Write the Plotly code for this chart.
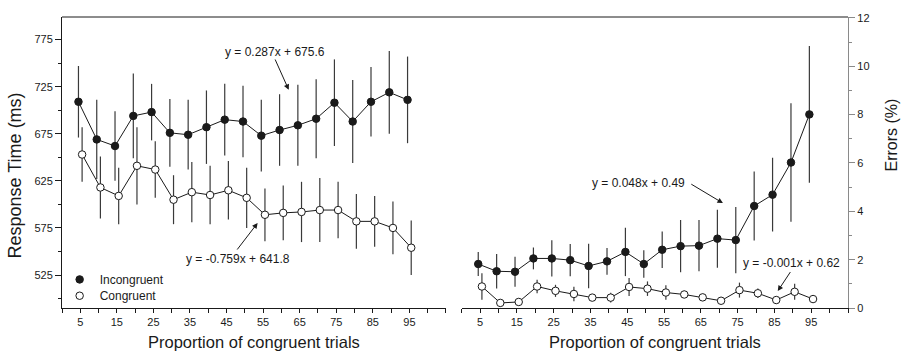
import plotly.graph_objects as go

# ---------------- data ----------------
proportions = [5, 10, 15, 20, 25, 30, 35, 40, 45, 50, 55, 60, 65, 70, 75, 80, 85, 90, 95]

rt_incongruent = [709, 669, 662, 694, 698, 676, 674, 682, 690, 688, 673, 679, 684, 691, 708, 688, 709, 719, 711]
rt_incongruent_se = [38, 42, 37, 45, 30, 36, 37, 39, 38, 38, 38, 38, 43, 42, 46, 44, 37, 44, 46]
rt_congruent = [653, 618, 609, 641, 637, 605, 613, 610, 615, 607, 589, 591, 592, 594, 594, 582, 582, 575, 554]
rt_congruent_se = [29, 33, 30, 41, 30, 26, 32, 31, 31, 32, 28, 29, 32, 34, 30, 29, 27, 28, 29]

err_incongruent = [1.82, 1.52, 1.50, 2.05, 2.05, 1.98, 1.74, 1.93, 2.32, 1.82, 2.41, 2.56, 2.58, 2.87, 2.81, 4.22, 4.69, 6.02, 8.01]
err_incongruent_se = [0.50, 0.71, 0.62, 0.45, 0.75, 0.67, 0.92, 0.55, 1.00, 0.57, 0.75, 1.08, 1.06, 1.20, 1.37, 1.43, 1.53, 2.45, 2.83]
err_congruent = [0.89, 0.21, 0.25, 0.89, 0.71, 0.58, 0.43, 0.43, 0.87, 0.80, 0.64, 0.56, 0.44, 0.30, 0.74, 0.61, 0.33, 0.67, 0.37]
err_congruent_se = [0.55, 0.10, 0.10, 0.28, 0.25, 0.30, 0.10, 0.20, 0.37, 0.30, 0.30, 0.15, 0.15, 0.10, 0.31, 0.20, 0.10, 0.33, 0.10]

x_tick_positions = list(range(0, 106, 5))
x_tick_labels = [5, 15, 25, 35, 45, 55, 65, 75, 85, 95]

eq_rt_incong = "y = 0.287x + 675.6"
eq_rt_cong = "y = -0.759x + 641.8"
eq_err_incong = "y = 0.048x + 0.49"
eq_err_cong = "y = -0.001x + 0.62"

# ---------------- styling ----------------
FONT = "Liberation Sans, Arial, Helvetica, sans-serif"
DARK = "#1a1a1a"
BAR = "#3a3a3a"
OFFSET = 0.5

x_inc = [p - OFFSET for p in proportions]
x_con = [p + OFFSET for p in proportions]

fig = go.Figure()

def add_series(x, y, se, filled, name, xa, ya, legend_id):
    # connecting line (no legend entry)
    fig.add_trace(go.Scatter(
        x=x, y=y, xaxis=xa, yaxis=ya, mode="lines", showlegend=False,
        hoverinfo="skip", line=dict(color=DARK, width=1),
    ))
    # markers + error bars
    fig.add_trace(go.Scatter(
        x=x, y=y, xaxis=xa, yaxis=ya, mode="markers", name=name,
        showlegend=legend_id is not None, legend=legend_id or "legend",
        marker=dict(size=7.5, color=DARK if filled else "white",
                    line=dict(color=DARK, width=1), symbol="circle"),
        error_y=dict(type="data", array=se, visible=True, thickness=1.2,
                     width=0, color=BAR),
    ))

add_series(x_inc, rt_incongruent, rt_incongruent_se, True, "Incongruent", "x", "y", "legend")
add_series(x_con, rt_congruent, rt_congruent_se, False, "Congruent", "x", "y", "legend2")
add_series(x_inc, err_incongruent, err_incongruent_se, True, "Incongruent", "x2", "y2", None)
add_series(x_con, err_congruent, err_congruent_se, False, "Congruent", "x2", "y2", None)

tick_text = [str(v) if v in x_tick_labels else "" for v in x_tick_positions]

xcommon = dict(range=[0, 105], showline=True, linecolor=DARK, linewidth=1,
               ticks="outside", ticklen=4, tickwidth=1, tickcolor=DARK,
               tickvals=x_tick_positions, ticktext=tick_text,
               showgrid=False, zeroline=False,
               tickfont=dict(size=11, color=DARK, family=FONT))

legend_common = dict(xanchor="left", yanchor="top", bgcolor="rgba(0,0,0,0)",
                     font=dict(size=12, family=FONT, color=DARK), itemwidth=30)

fig.update_layout(
    width=904, height=351,
    margin=dict(l=62, r=56, t=14, b=43),
    paper_bgcolor="white", plot_bgcolor="white",
    font=dict(family=FONT, color=DARK),
    xaxis=dict(domain=[0, 0.4885], anchor="y", **xcommon),
    xaxis2=dict(domain=[0.5085, 1], anchor="y2", **xcommon),
    yaxis=dict(range=[490, 799], anchor="x", showline=True, linecolor=DARK, linewidth=1,
               ticks="outside", ticklen=6, tickwidth=1, tickcolor=DARK,
               tick0=525, dtick=50, showgrid=False, zeroline=False,
               tickfont=dict(size=11, color=DARK, family=FONT),
               minor=dict(dtick=25, ticks="outside", ticklen=3, tickcolor=DARK, showgrid=False)),
    yaxis2=dict(range=[0, 12.04], anchor="x2", side="right", showline=True,
                linecolor="#8a8a8a", linewidth=1.2,
                ticks="outside", ticklen=6, tickwidth=1, tickcolor="#8a8a8a",
                tick0=0, dtick=2, showgrid=False, zeroline=False,
                tickfont=dict(size=11, color=DARK, family=FONT),
                minor=dict(dtick=1, ticks="outside", ticklen=3, tickcolor="#8a8a8a", showgrid=False)),
    showlegend=True,
    legend=dict(x=-0.003, y=0.148, **legend_common),
    legend2=dict(x=-0.003, y=0.092, **legend_common),
)

# top frame line spanning both panels
fig.add_shape(type="line", xref="paper", yref="paper", x0=0, x1=1, y0=1, y1=1,
              line=dict(color=DARK, width=1))

# axis titles
fig.add_annotation(text="Proportion of congruent trials", xref="x domain", yref="paper",
                   x=0.5, y=-0.1158, yanchor="middle", showarrow=False,
                   font=dict(size=16.5, family=FONT, color=DARK))
fig.add_annotation(text="Proportion of congruent trials", xref="x2 domain", yref="paper",
                   x=0.5, y=-0.1158, yanchor="middle", showarrow=False,
                   font=dict(size=16.5, family=FONT, color=DARK))
fig.add_annotation(text="Response Time (ms)", xref="paper", yref="paper",
                   x=-0.06, y=0.455, textangle=-90, showarrow=False,
                   xanchor="center", yanchor="middle",
                   font=dict(size=18, family=FONT, color=DARK))
fig.add_annotation(text="Errors (%)", xref="paper", yref="paper",
                   x=1.0555, y=0.595, textangle=-90, showarrow=False,
                   xanchor="center", yanchor="middle",
                   font=dict(size=16, family=FONT, color=DARK))

# regression equation labels
def eq_label(text, xa, ya, x, y):
    fig.add_annotation(text=text, xref=xa, yref=ya, x=x, y=y, showarrow=False,
                       font=dict(size=12, family=FONT, color=DARK))

def arrow(xa, ya, x0, y0, x1, y1):
    fig.add_annotation(text="", xref=xa, yref=ya, axref=xa, ayref=ya,
                       x=x1, y=y1, ax=x0, ay=y0, showarrow=True,
                       arrowhead=2, arrowsize=1.1, arrowwidth=1, arrowcolor=DARK)

eq_label(eq_rt_incong, "x", "y", 58.2, 761.7)
arrow("x", "y", 58.1, 755.5, 62.0, 721.7)
eq_label(eq_rt_cong, "x", "y", 48.2, 542.4)
arrow("x", "y", 47.6, 550.5, 53.5, 580.3)
eq_label(eq_err_incong, "x2", "y2", 48.1, 5.19)
arrow("x2", "y2", 62.0, 5.16, 71.0, 4.34)
eq_label(eq_err_cong, "x2", "y2", 89.6, 1.86)
arrow("x2", "y2", 89.6, 1.55, 85.9, 0.70)

fig.write_html("out.html")
